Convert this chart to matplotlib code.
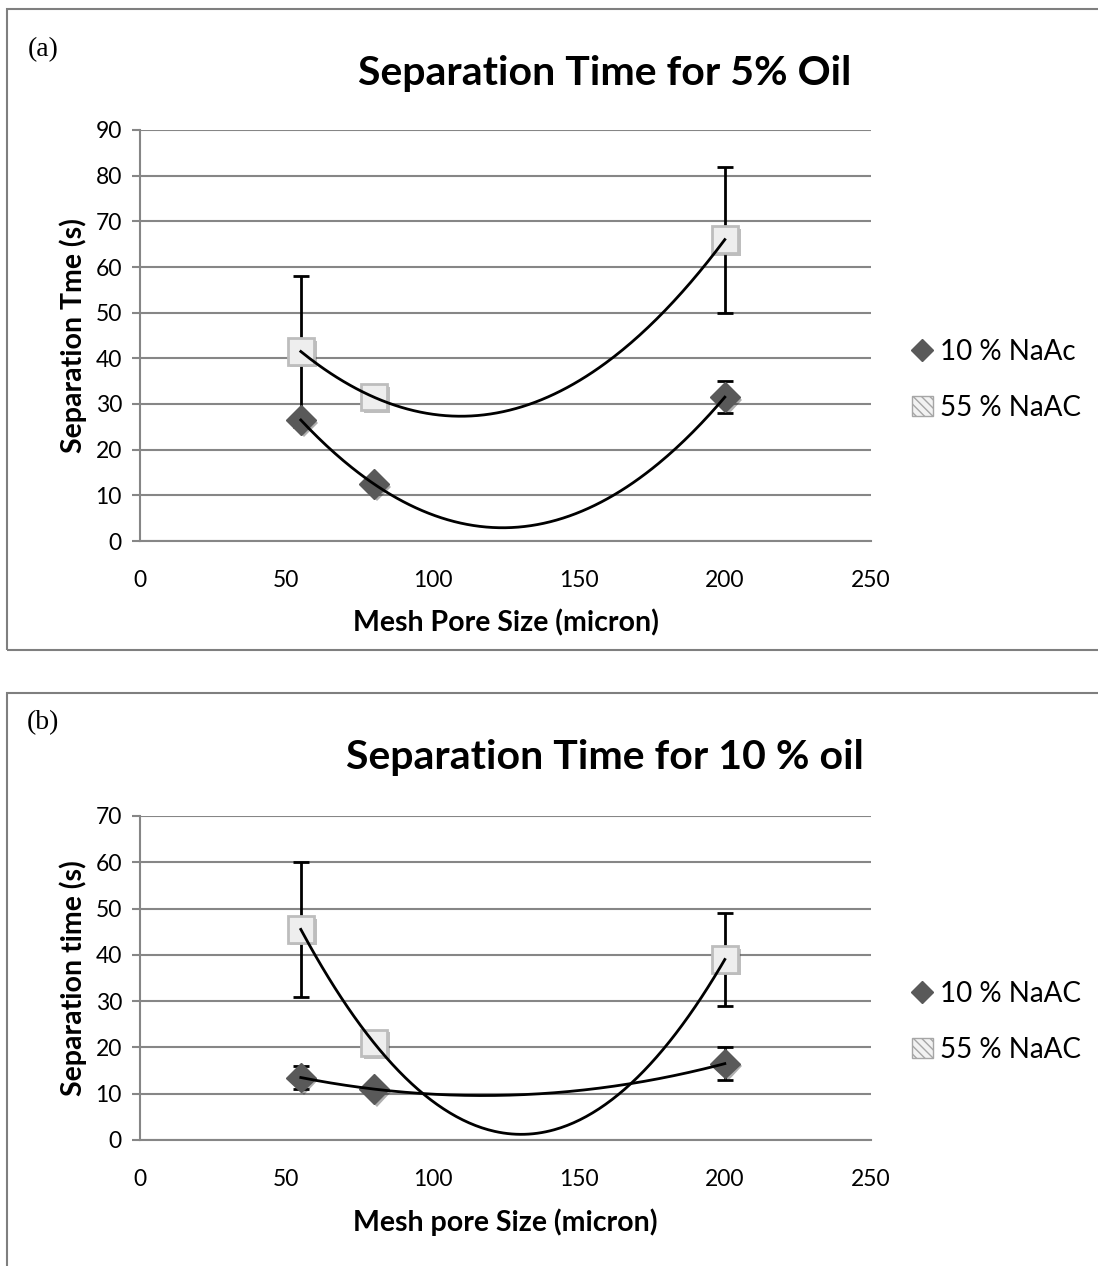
import numpy as np
import matplotlib.pyplot as plt
import matplotlib.patheffects as pe
from matplotlib.patches import Rectangle, Patch
from matplotlib.lines import Line2D

# panel (a): 5 % oil
mesh = [55, 80, 200]
a_10 = [26.5, 12.5, 31.5]
a_10_err = [0, 0, 3.5]
a_55 = [41.5, 31.5, 66]
a_55_err = [16.5, 0, 16]

# panel (b): 10 % oil
b_10 = [13.5, 11, 16.5]
b_10_err = [2.5, 0, 3.5]
b_55 = [45.5, 21, 39]
b_55_err = [14.5, 0, 10]

W, H = 1098, 1266
fig = plt.figure(figsize=(W / 100, H / 100), dpi=100)

FONT = 'Lato'
GRID = '#868686'
shadow = [pe.SimplePatchShadow(offset=(2, -2), alpha=0.35), pe.Normal()]


def px(x, y):
    # pixel position -> figure fraction
    return x / W, 1 - y / H


def panel(top, bottom, y10, e10, y55, e55, ymax, title, ylabel, xlabel, lab10, lab55, tag, box, tag_y,
          title_y, leg_y):
    fig.patches.append(Rectangle(px(box[0], box[3]), (box[2] - box[0]) / W, (box[3] - box[1]) / H,
                                 transform=fig.transFigure, fill=False, ec='#7f7f7f', lw=1.5))
    fig.text(*px(43, tag_y), tag, family='Liberation Serif', fontsize=20, ha='center', va='center')
    fig.text(*px(605, title_y), title, family=FONT, fontweight='bold', fontsize=29.5, ha='center', va='center')

    ax = fig.add_axes([140 / W, 1 - bottom / H, 731 / W, (bottom - top) / H])
    ax.set_xlim(0, 250)
    ax.set_ylim(0, ymax)
    ax.set_xticks(np.arange(0, 251, 50))
    ax.set_yticks(np.arange(0, ymax + 1, 10))
    ax.grid(axis='y', color=GRID, lw=1.5)
    ax.set_axisbelow(True)
    for s in ['top', 'right']:
        ax.spines[s].set_visible(False)
    for s in ['left', 'bottom']:
        ax.spines[s].set_color(GRID)
        ax.spines[s].set_linewidth(1.5)
    ax.tick_params(axis='y', length=6, width=1.5, color=GRID, labelsize=16.5, pad=7)
    ax.tick_params(axis='x', length=0, labelsize=16.5, pad=21)
    for t in ax.get_xticklabels() + ax.get_yticklabels():
        t.set_family(FONT)

    ax.errorbar(mesh, y10, yerr=e10, fmt='none', ecolor='black', elinewidth=2, capsize=6, capthick=2, zorder=2)
    ax.errorbar(mesh, y55, yerr=e55, fmt='none', ecolor='black', elinewidth=2, capsize=6, capthick=2, zorder=2)

    ax.plot(mesh, y10, ls='none', marker='D', ms=15, mfc='#595959', mec='#595959', zorder=3,
            path_effects=shadow)
    ax.plot(mesh, y55, ls='none', marker='s', ms=19, mfc='#eeeeee', mec='#bdbdbd', mew=2, zorder=3,
            path_effects=shadow)

    # second order trend lines
    xs = np.linspace(mesh[0], mesh[-1], 200)
    for y in (y10, y55):
        c = np.polyfit(mesh, y, 2)
        ax.plot(xs, np.polyval(c, xs), color='black', lw=2, zorder=4)

    ax.set_ylabel(ylabel, family=FONT, fontweight='bold', fontsize=20.5, labelpad=6)
    ax.set_xlabel(xlabel, family=FONT, fontweight='bold', fontsize=20.5, labelpad=13)

    h10 = Line2D([], [], ls='none', marker='D', ms=11, mfc='#595959', mec='#595959')
    h55 = Patch(facecolor='#f2f2f2', edgecolor='#a6a6a6', hatch='\\\\\\\\', lw=1)
    ax.legend(handles=[h10, h55], labels=[lab10, lab55], loc='center left', bbox_to_anchor=px(912, leg_y),
              bbox_transform=fig.transFigure, frameon=False, prop={'family': FONT, 'size': 20},
              handlelength=0.75, handleheight=0.75, handletextpad=0.25, labelspacing=1.05, borderpad=0,
              borderaxespad=0)
    return ax


panel(130, 541, a_10, a_10_err, a_55, a_55_err, 90,
      'Separation Time for 5% Oil', 'Separation Tme (s)', 'Mesh Pore Size (micron)',
      '10 % NaAc', '55 % NaAC', '(a)', (7, 9, 1110, 650), 50, 73, 380)
panel(816, 1140, b_10, b_10_err, b_55, b_55_err, 70,
      'Separation Time for 10 % oil', 'Separation time (s)', 'Mesh pore Size (micron)',
      '10 % NaAC', '55 % NaAC', '(b)', (7, 693, 1110, 1280), 723, 757, 1022)

fig.savefig('out.png', dpi=100)
